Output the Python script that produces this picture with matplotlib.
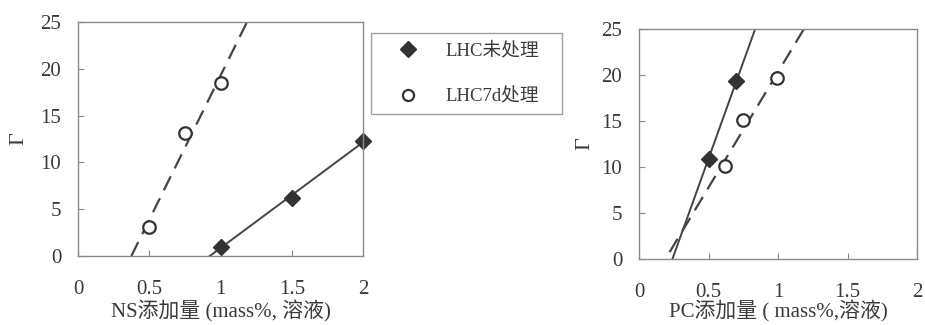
import numpy as np
import matplotlib
matplotlib.use("Agg")
import matplotlib.pyplot as plt
from matplotlib.lines import Line2D

plt.rcParams['font.family'] = ['Liberation Serif', 'Noto Sans CJK SC']
plt.rcParams['axes.unicode_minus'] = False

# NS series (left panel)
ns_raw_x = [1.0, 1.5, 2.0]
ns_raw_y = [1.0, 6.2, 12.3]
ns_7d_x = [0.5, 0.75, 1.0]
ns_7d_y = [3.1, 13.1, 18.5]

# PC series (right panel)
pc_raw_x = [0.5, 0.7]
pc_raw_y = [10.9, 19.3]
pc_7d_x = [0.62, 0.75, 0.99]
pc_7d_y = [10.1, 15.1, 19.7]

labels = ['LHC未处理', 'LHC7d处理']
xlabels = ['NS添加量 (mass%, 溶液)', 'PC添加量 ( mass%,溶液)']
xticks = [0, 0.5, 1, 1.5, 2]
xticklabels = ['0', '0.5', '1', '1.5', '2']
yticks = [0, 5, 10, 15, 20, 25]

TXT = '#3a3a3a'
MARK = '#333333'
FRAME = '#8a8a8a'


def fit_line(x, y, x_start=None, x_end=None, ymin=0, ymax=25):
    k, b = np.polyfit(x, y, 1)
    x0 = (ymin - b) / k if x_start is None else x_start
    x1 = (ymax - b) / k if x_end is None else x_end
    xs = np.array([x0, x1])
    return xs, k * xs + b


def style_axes(ax, xlabel, ypad, xpad):
    ax.set_xlim(0, 2)
    ax.set_ylim(0, 25)
    ax.set_xticks(xticks)
    ax.set_xticklabels(xticklabels)
    ax.set_yticks(yticks)
    ax.tick_params(direction='in', length=4, width=0.8, colors=FRAME,
                   labelcolor=TXT, labelsize=15)
    ax.tick_params(axis='x', pad=17)
    ax.tick_params(axis='y', pad=12)
    for s in ax.spines.values():
        s.set_color(FRAME)
        s.set_linewidth(1.0)
    ax.set_xlabel(xlabel, fontsize=15, color=TXT, labelpad=xpad)
    ax.set_ylabel('Γ', fontsize=16, color=TXT, labelpad=ypad)


fig = plt.figure(figsize=(9.25, 3.25), dpi=100)
ax1 = fig.add_axes([78 / 925, 1 - 256 / 325, 285 / 925, 234 / 325])
ax2 = fig.add_axes([639 / 925, 1 - 259 / 325, 278 / 925, 230 / 325])

# left panel
xs, ys = fit_line(ns_raw_x, ns_raw_y, x_end=2.0)
ax1.plot(xs, ys, color='#444444', lw=1.4)
xs, ys = fit_line(ns_7d_x, ns_7d_y)
ax1.plot(xs, ys, color='#444444', lw=1.6, dashes=(7, 4))
ax1.plot(ns_raw_x, ns_raw_y, 'D', color=MARK, ms=8, clip_on=False)
ax1.plot(ns_7d_x, ns_7d_y, 'o', mfc='white', mec=MARK, mew=1.6, ms=9)
style_axes(ax1, xlabels[0], 9, 1)

# right panel
xs, ys = fit_line(pc_raw_x, pc_raw_y)
ax2.plot(xs, ys, color='#444444', lw=1.4)
xs, ys = fit_line(pc_7d_x, pc_7d_y, x_start=0.22)
ax2.plot(xs, ys, color='#444444', lw=1.6, dashes=(7, 4))
ax2.plot(pc_raw_x, pc_raw_y, 'D', color=MARK, ms=8)
ax2.plot(pc_7d_x, pc_7d_y, 'o', mfc='white', mec=MARK, mew=1.6, ms=9)
style_axes(ax2, xlabels[1], 5, -1)

handles = [Line2D([], [], ls='none', marker='D', color=MARK, ms=8),
           Line2D([], [], ls='none', marker='o', mfc='white', mec=MARK, mew=1.6, ms=8)]
leg = fig.legend(handles, labels, loc='upper left',
                 bbox_to_anchor=(371 / 925, 1 - 115 / 325, 191 / 925, 82 / 325),
                 mode='expand', fontsize=13.5, frameon=True, fancybox=False,
                 borderpad=0.45, labelspacing=1.55, handlelength=3.0,
                 handletextpad=0.5, borderaxespad=0)
leg.get_frame().set_edgecolor(FRAME)
leg.get_frame().set_linewidth(1.0)
for t in leg.get_texts():
    t.set_color(TXT)

fig.savefig('out.png', dpi=100)
